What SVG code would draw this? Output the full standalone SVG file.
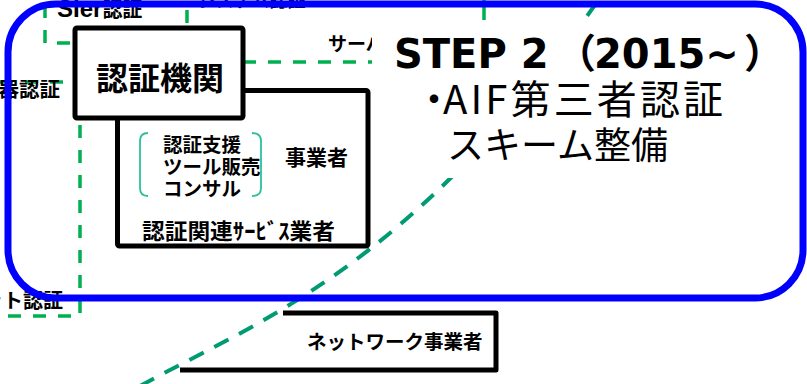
<svg xmlns="http://www.w3.org/2000/svg" width="807" height="384" viewBox="0 0 807 384">
<style>
.jp{font-family:"Noto Sans CJK JP","Noto Sans",sans-serif;}
.b{font-weight:bold;}
.box{fill:#fff;stroke:#000;stroke-width:5;stroke-linejoin:round;}
.gd{fill:none;stroke:#00B050;stroke-width:3.5;stroke-dasharray:13 12;}
.td{fill:none;stroke:#009B72;stroke-width:4;stroke-dasharray:16 12;}
.br{fill:none;stroke:#2EBF9E;stroke-width:1.8;}
</style>
<rect width="807" height="384" fill="#fff"/>
<g id="connectors">
<path class="gd" d="M45,-20 V43 H187 V-20"/>
<line class="gd" x1="243" y1="62" x2="385" y2="62"/>
<line class="gd" x1="0" y1="82" x2="75" y2="82"/>
<path class="gd" d="M80,125 V316 H0"/>
<line class="gd" x1="484" y1="0" x2="484" y2="22" style="stroke-dasharray:none"/>
<path class="td" d="M140,386 C250,325 410,270 597,2"/>
</g>
<g id="top-labels">
<text class="jp b" x="57" y="17"><tspan font-family="Liberation Sans, sans-serif" font-size="24">SIer</tspan><tspan font-size="20">認証</tspan></text>
<text class="jp b" x="198" y="7" font-size="18">システム認証</text>
<text class="jp b" x="328" y="51" font-size="19">サーバー認証</text>
<text class="jp b" x="60" y="97" font-size="20.5" text-anchor="end">器認証</text>
<text class="jp b" x="63" y="308" font-size="20" text-anchor="end">ット認証</text>
</g>
<g id="network">
<path d="M283,313 H496 V370 H180" fill="none" stroke="#000" stroke-width="5" stroke-linejoin="round"/>
<text class="jp b" x="307" y="349" font-size="19.5">ネットワーク事業者</text>
</g>
<g id="service">
<rect class="box" x="117.5" y="90.5" width="250.5" height="155.5" rx="2"/>
<path class="br" d="M148,133 Q140,133 140,141 V188 Q140,196 148,196"/>
<path class="br" d="M252,133 Q261,133 261,141 V188 Q261,196 252,196"/>
<text class="jp b" font-size="19.5"><tspan x="163" y="152">認証支援</tspan><tspan x="163" y="174">ツール販売</tspan><tspan x="163" y="196">コンサル</tspan></text>
<text class="jp b" x="285" y="165" font-size="21">事業者</text>
<text class="jp b" x="142" y="239" font-size="22" textLength="193" lengthAdjust="spacingAndGlyphs">認証関連ｻｰﾋﾞｽ業者</text>
</g>
<g id="cert">
<rect class="box" x="75" y="28" width="168" height="90" rx="2"/>
<text class="jp b" x="160" y="90" font-size="32" text-anchor="middle">認証機関</text>
</g>
<g id="step2">
<rect x="372" y="20" width="420" height="158" fill="#fff"/>
<text class="b" y="68" font-size="40" font-family="DejaVu Sans, sans-serif"><tspan x="394">STEP 2</tspan><tspan class="jp" x="556">（</tspan><tspan x="594">2015~</tspan><tspan class="jp" x="744">）</tspan></text>
<text class="jp" y="114" font-size="40"><tspan x="414">・</tspan><tspan x="443" textLength="280" lengthAdjust="spacing">AIF第三者認証</tspan></text>
<text class="jp" x="447" y="159" font-size="37">スキーム整備</text>
</g>
<rect x="8" y="4" width="795" height="294" rx="48" fill="none" stroke="#0000FF" stroke-width="7"/>
</svg>
